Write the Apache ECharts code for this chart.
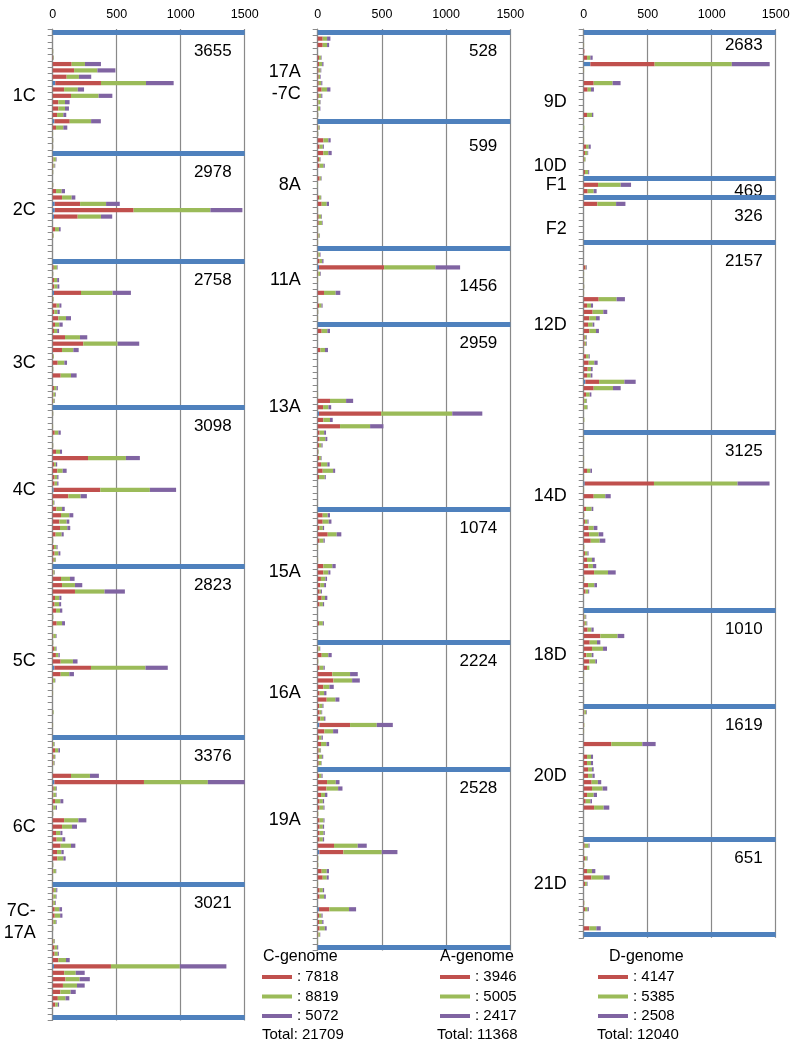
<!DOCTYPE html>
<html><head><meta charset="utf-8">
<script src="https://cdn.jsdelivr.net/npm/echarts@6/dist/echarts.min.js"></script>
<style>html,body{margin:0;padding:0;background:#fff}#c{width:796px;height:1061px}</style>
</head><body><div id="c"></div>
<script>
// ===== DATA (null = blue separator row) =====
const C_RED = [null,
 0,0,1,3,148,167,109,357,89,143,44,44,34,120,26,1,1,1, null,
 5,5,1,0,1,26,73,198,616,185,0,18,2,0,0,0, null,
 8,1,10,12,211,2,31,12,44,18,10,96,239,73,3,39,1,62,0,10,5,5, null,
 1,0,1,16,1,1,26,276,10,36,15,15,364,122,3,29,65,52,57,23,1,10,15,8, null,
 5,65,73,174,18,15,26,1,31,0,5,1,10,25,62,286,62,3,1,1,0,0,1,0,1,0, null,
 3,18,8,5,0,143,700,8,5,18,5,1,89,73,26,31,62,34,36,1,5,1, null,
 8,5,5,16,16,5,1,0,5,15,15,44,445,90,100,80,60,40,20,0, null];
const C_GREEN = [null,
 0,0,3,5,104,182,96,352,107,216,52,52,49,167,57,2,3,2, null,
 20,10,3,0,3,44,75,203,600,182,0,31,5,0,0,0, null,
 25,3,25,25,247,5,21,25,60,34,25,117,268,88,6,52,3,81,0,20,15,10, null,
 3,0,2,29,2,3,31,296,15,42,20,20,387,96,8,44,65,57,57,47,3,20,30,15, null,
 10,70,101,231,34,35,31,3,42,1,20,3,15,20,96,426,68,15,2,2,0,0,6,0,2,0, null,
 10,26,10,8,1,148,499,20,20,42,20,3,112,78,34,44,81,34,47,3,20,2, null,
 20,20,15,36,42,20,3,0,10,20,25,60,538,90,110,110,80,60,20,0, null];
const C_PURPLE = [null,
 0,0,1,2,125,141,96,216,49,107,36,31,23,76,31,0,1,1, null,
 5,5,1,0,1,26,29,107,250,88,0,13,1,0,0,0, null,
 5,1,15,15,143,1,16,18,39,26,15,57,169,42,1,21,1,44,0,10,5,3, null,
 1,0,0,18,0,1,16,109,10,31,10,10,205,49,3,21,31,21,23,16,1,8,15,3, null,
 3,36,57,159,16,16,18,1,23,0,5,1,5,10,36,174,36,3,0,0,0,0,1,0,0,0, null,
 3,13,3,3,0,70,288,5,5,23,8,1,62,39,16,23,34,18,18,1,3,0, null,
 8,5,5,21,18,5,1,0,3,8,8,29,364,70,80,60,40,30,10,0, null];
const C_CEN = [[8,20],[14,13],[27,16],[28,16],[29,10],[41,10],[72,8],[100,13],[118,13],[147,10]];
const C_LABELS = [[10,'1C'],[28,'2C'],[52,'3C'],[72,'4C'],[99,'5C'],[125,'6C'],[140,'7C-\n17A']];
const C_TOTALS = [[3,'3655'],[22,'2978'],[39,'2758'],[62,'3098'],[87,'2823'],[114,'3376'],[137,'3021']];
const C_LEGEND = [7818, 8819, 5072];
const C_TOTAL = 21709;

const A_RED = [null,
 39,39,0,10,10,8,8,8,31,8,5,3,1, null,
 5,1,44,15,44,10,15,0,15,0,0,10,31,1,8,8,1,5,1, null,
 5,15,507,5,1,0,49,1,10,1,1, null,
 31,0,0,21,0,0,0,0,0,0,1,96,42,484,44,174,15,15,10,3,10,26,39,10,0,0,0,0, null,
 39,39,15,78,15,1,0,1,44,44,25,20,15,31,15,0,0,10,0,0, null,
 5,31,2,15,114,122,44,15,70,12,15,20,239,52,10,26,8,10,8, null,
 10,73,68,26,15,15,2,15,15,15,15,127,187,2,2,31,39,1,15,15,0,81,10,10,15,5,0, null];
const A_GREEN = [null,
 34,34,0,15,25,15,10,20,42,20,15,15,3, null,
 10,3,39,25,39,10,30,0,10,2,0,15,39,2,20,25,2,10,2, null,
 12,20,400,15,2,0,91,2,20,3,2, null,
 44,0,0,36,0,0,0,0,0,1,2,125,42,554,52,234,35,45,20,4,15,49,81,45,0,0,0,0, null,
 39,47,25,70,30,2,0,2,70,39,35,30,10,26,25,0,0,30,0,0, null,
 12,52,3,30,138,146,47,35,68,25,15,30,208,68,20,42,15,25,20, null,
 20,68,91,31,25,30,3,30,25,30,25,185,299,3,3,39,31,2,25,35,0,153,20,25,40,12,2, null];
const A_PURPLE = [null,
 26,16,0,5,10,5,5,8,26,8,3,3,1, null,
 3,1,18,8,26,3,10,0,5,0,0,3,18,0,5,5,0,3,0, null,
 5,10,192,5,0,0,36,0,8,1,0, null,
 21,0,0,23,0,0,0,0,0,0,0,55,21,234,21,104,15,15,8,1,5,18,16,8,0,0,0,0, null,
 18,21,10,36,10,0,0,0,26,16,13,15,8,18,10,0,0,8,0,0, null,
 3,26,0,10,60,60,34,18,31,8,5,10,125,39,10,21,3,8,3, null,
 8,29,34,18,10,8,0,8,10,10,10,70,122,0,0,18,16,0,10,13,0,55,8,10,15,3,0, null];
const A_CEN = [[37,10],[60,10],[109,13],[129,13],[138,10]];
const A_LABELS = [[8,'17A\n-7C'],[24,'8A'],[39,'11A'],[59,'13A'],[85,'15A'],[104,'16A'],[124,'19A']];
const A_TOTALS = [[3,'528'],[18,'599'],[40,'1456'],[49,'2959'],[78,'1074'],[99,'2224'],[119,'2528']];
const A_LEGEND = [3946, 5005, 2417];
const A_TOTAL = 11368;

const D_RED = [null,
 0,1,5,26,502,1,0,78,31,0,0,0,26,1,0,0,1,18,10,3,0,10, null,
 112,31, null,
 107,0,0,0,0,0, null,
 0,0,0,15,1,1,1,1,117,26,70,44,34,44,8,8,1,18,39,31,26,107,78,18,3,3,0,1,0, null,
 1,0,0,1,1,26,1,541,1,78,0,18,2,10,39,42,55,2,10,26,36,81,2,34,15,0,0, null,
 5,8,31,130,47,65,21,44,26,1,1,0,0,0, null,
 5,0,2,1,0,216,0,26,26,34,34,62,65,26,16,81,0,0,0,0, null,
 8,1,10,2,26,60,10,0,0,2,10,1,0,44, null];
const D_GREEN = [null,
 0,2,0,26,603,2,0,148,26,0,0,0,39,2,5,0,2,21,20,10,0,25, null,
 177,47, null,
 146,0,0,0,0,0, null,
 0,0,0,5,2,2,3,2,140,31,83,52,36,52,12,12,2,21,44,26,29,198,151,29,20,25,0,4,0, null,
 2,0,0,2,2,26,2,653,2,91,0,44,3,20,39,75,70,3,20,39,36,109,3,49,20,0,0, null,
 10,15,29,135,57,86,42,47,18,2,2,0,0,0, null,
 15,0,3,2,0,242,0,31,31,31,34,49,83,52,36,75,0,0,0,0, null,
 30,2,15,3,39,96,15,0,0,3,20,2,0,55, null];
const D_PURPLE = [null,
 0,0,0,18,296,0,0,62,23,0,0,0,10,0,0,0,0,16,5,2,0,8, null,
 81,23, null,
 73,0,0,0,0,0, null,
 0,0,0,5,0,0,1,0,65,16,31,29,13,23,5,5,0,8,26,13,13,88,60,13,3,3,0,0,0, null,
 0,0,0,0,0,13,0,250,0,42,0,13,0,8,29,36,44,0,8,21,26,60,0,21,8,0,0, null,
 5,5,18,52,26,31,13,13,0,0,0,0,0,0, null,
 5,0,0,0,0,104,0,16,16,13,18,26,36,26,13,44,0,0,0,0, null,
 8,0,5,0,26,47,5,0,0,0,10,0,0,34, null];
const D_CEN = [[5,52],[55,13],[71,8]];
const D_LABELS = [[11,'9D'],[21,'10D'],[24,'F1'],[31,'F2'],[46,'12D'],[73,'14D'],[98,'18D'],[117,'20D'],[134,'21D']];
const D_TOTALS = [[2,'2683'],[25,'469'],[29,'326'],[36,'2157'],[66,'3125'],[94,'1010'],[109,'1619'],[130,'651']];
const D_LEGEND = [4147, 5385, 2508];
const D_TOTAL = 12040;

const X_TICKS = [0, 500, 1000, 1500];

// ===== LAYOUT / STYLE =====
const FONT = '"Liberation Sans", Arial, sans-serif';
const COL = {cen:'#4F81BD', red:'#C0504D', green:'#9BBB59', purple:'#8064A2', grid:'#898989'};
const TOP = 29.1, ROW = 6.355;
const LAYOUT = [
  {left:52.7, width:192, legL:262, titleL:263, totL:262},
  {left:317.7, width:192.6, legL:440, titleL:440, totL:437},
  {left:583.7, width:192, legL:598, titleL:609, totL:597}
];
const TITLE_TOP = 949, LEG_TOP = 969, TOT_TOP = 1027;

const panels = [
  {key:'C', name:'C-genome', red:C_RED, green:C_GREEN, purple:C_PURPLE, cen:C_CEN, labels:C_LABELS, totals:C_TOTALS, legend:C_LEGEND, total:C_TOTAL},
  {key:'A', name:'A-genome', red:A_RED, green:A_GREEN, purple:A_PURPLE, cen:A_CEN, labels:A_LABELS, totals:A_TOTALS, legend:A_LEGEND, total:A_TOTAL},
  {key:'D', name:'D-genome', red:D_RED, green:D_GREEN, purple:D_PURPLE, cen:D_CEN, labels:D_LABELS, totals:D_TOTALS, legend:D_LEGEND, total:D_TOTAL}
];

const grid = [], xAxis = [], yAxis = [], series = [], legend = [], title = [];
panels.forEach((p, i) => {
  const n = p.red.length;
  const ids = Array.from({length:n}, (_, k) => p.key + k);
  const leftLab = new Array(n).fill(''); p.labels.forEach(([r, t]) => leftLab[r] = t);
  const rightLab = new Array(n).fill(''); p.totals.forEach(([r, t]) => rightLab[r] = t);
  const cen = p.red.map(v => v === null ? null : 0); p.cen.forEach(([r, v]) => cen[r] = v);
  const seps = ids.filter((_, k) => p.red[k] === null);
  const L = LAYOUT[i];
  grid.push({left:L.left, width:L.width, top:TOP, height:n * ROW});
  xAxis.push({gridIndex:i, type:'value', position:'top', min:X_TICKS[0], max:X_TICKS[X_TICKS.length-1], interval:X_TICKS[1]-X_TICKS[0],
    axisLine:{show:false}, axisTick:{show:false},
    axisLabel:{color:'#000', fontSize:12.5, fontFamily:FONT, margin:8, formatter:v => String(v)},
    splitLine:{show:true, lineStyle:{color:COL.grid, width:1.2}}});
  yAxis.push({gridIndex:i, type:'category', inverse:true, data:ids,
    axisLine:{show:true, lineStyle:{color:COL.grid, width:1.2}},
    axisTick:{show:true, interval:0, length:5, lineStyle:{color:COL.grid}},
    axisLabel:{interval:0, margin:17, fontSize:18, lineHeight:22, color:'#000', fontFamily:FONT, formatter:(v, k) => leftLab[k]},
    splitLine:{show:false}});
  yAxis.push({gridIndex:i, type:'category', inverse:true, position:'right', data:ids,
    axisLine:{show:false}, axisTick:{show:false}, splitLine:{show:false},
    axisLabel:{inside:true, interval:0, margin:13, fontSize:17, color:'#000', fontFamily:FONT, formatter:(v, k) => rightLab[k]}});
  const base = {type:'bar', stack:'s' + i, xAxisIndex:i, yAxisIndex:2 * i, barWidth:'66%', silent:true, animation:false};
  series.push(Object.assign({}, base, {name:p.key + '0', data:cen, itemStyle:{color:COL.cen},
    markLine:{silent:true, symbol:['none','none'], animation:false, label:{show:false},
      lineStyle:{color:COL.cen, width:5, type:'solid'}, emphasis:{disabled:true},
      data:seps.map(id => ({yAxis:id}))}}));
  series.push(Object.assign({}, base, {name:p.key + '1', data:p.red, itemStyle:{color:COL.red}}));
  series.push(Object.assign({}, base, {name:p.key + '2', data:p.green, itemStyle:{color:COL.green}}));
  series.push(Object.assign({}, base, {name:p.key + '3', data:p.purple, itemStyle:{color:COL.purple}}));
  legend.push({data:[p.key + '1', p.key + '2', p.key + '3'], orient:'vertical', left:L.legL, top:LEG_TOP,
    itemWidth:30, itemHeight:4, itemGap:3.5, icon:'rect', padding:0, selectedMode:false,
    textStyle:{fontSize:15, lineHeight:16, color:'#000', fontFamily:FONT},
    formatter:name => ': ' + p.legend[Number(name.slice(1)) - 1]});
  title.push({text:p.name, left:L.titleL, top:TITLE_TOP, padding:0,
    textStyle:{fontSize:16, fontWeight:'normal', color:'#000', fontFamily:FONT}});
  title.push({text:'Total: ' + p.total, left:L.totL, top:TOT_TOP, padding:0,
    textStyle:{fontSize:15, fontWeight:'normal', color:'#000', fontFamily:FONT}});
});

const chart = echarts.init(document.getElementById('c'), null, {renderer:'canvas'});
chart.setOption({backgroundColor:'#fff', animation:false, grid, xAxis, yAxis, series, legend, title});
</script></body></html>
